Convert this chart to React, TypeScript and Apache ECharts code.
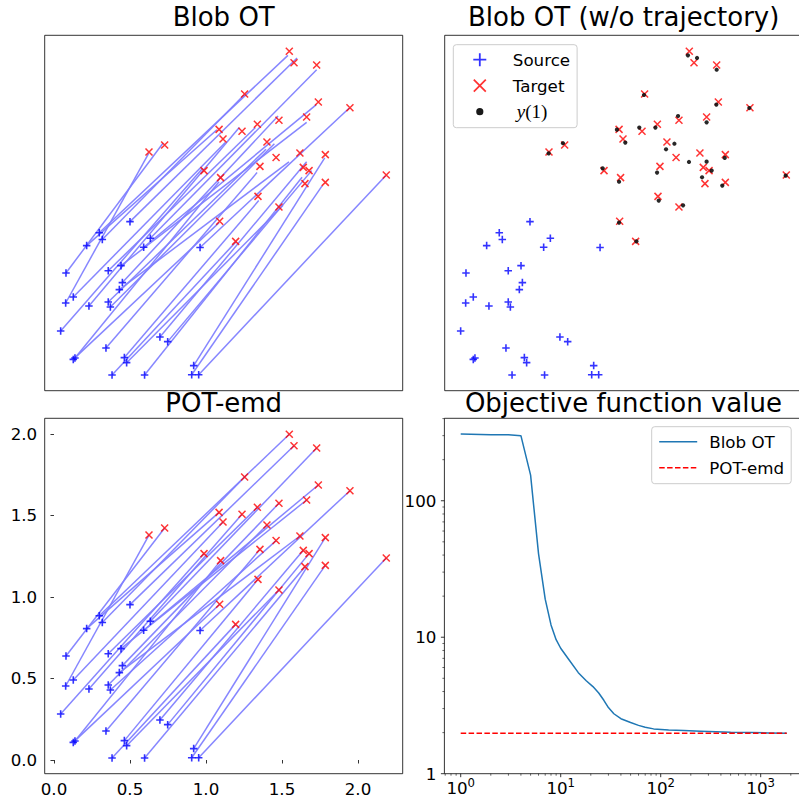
import React, { useEffect, useRef } from 'react';
import * as echarts from 'echarts';

// ---------------- data ----------------
const sourceX = [0.500, 0.298, 0.318, 0.215, 0.634, 0.590, 0.961, 0.079, 0.357, 0.441, 0.450, 0.430, 0.127, 0.077, 0.230, 0.357, 0.371, 0.044, 0.697, 0.748, 0.342, 0.127, 0.138, 0.463, 0.478, 0.919, 0.382, 0.596, 0.906, 0.952];
const sourceY = [0.953, 0.885, 0.843, 0.806, 0.851, 0.796, 0.794, 0.638, 0.652, 0.683, 0.579, 0.536, 0.491, 0.454, 0.436, 0.460, 0.429, 0.282, 0.245, 0.217, 0.178, 0.108, 0.117, 0.119, 0.088, 0.070, 0.012, 0.012, 0.014, 0.014];

const targetX = [1.548, 1.579, 1.728, 1.254, 1.739, 1.947, 1.480, 1.662, 1.086, 1.237, 1.338, 1.112, 1.401, 0.625, 0.728, 1.461, 1.618, 1.785, 0.987, 1.096, 1.355, 1.640, 1.678, 1.651, 1.785, 2.186, 1.342, 1.480, 1.090, 1.195];
const targetY = [1.998, 1.928, 1.914, 1.736, 1.687, 1.652, 1.575, 1.595, 1.519, 1.507, 1.550, 1.460, 1.442, 1.380, 1.423, 1.346, 1.374, 1.364, 1.266, 1.223, 1.292, 1.286, 1.266, 1.186, 1.194, 1.239, 1.108, 1.043, 0.955, 0.832];

// y(1): final blob positions, listed in the order of the target each ends near
const finalX = [1.539, 1.599, 1.728, 1.250, 1.726, 1.943, 1.474, 1.662, 1.072, 1.219, 1.325, 1.127, 1.395, 0.623, 0.717, 1.450, 1.546, 1.781, 0.978, 1.086, 1.336, 1.662, 1.695, 1.632, 1.765, 2.182, 1.347, 1.507, 1.086, 1.200];
const finalY = [1.973, 1.957, 1.885, 1.730, 1.671, 1.650, 1.601, 1.562, 1.517, 1.530, 1.530, 1.438, 1.397, 1.372, 1.434, 1.431, 1.319, 1.344, 1.280, 1.198, 1.254, 1.321, 1.266, 1.225, 1.174, 1.235, 1.082, 1.053, 0.947, 0.832];

// transport plan: source i is sent to target matchIdx[i]
const matchIdx = [1, 0, 3, 8, 2, 4, 5, 14, 10, 7, 6, 16, 11, 13, 9, 12, 15, 18, 21, 22, 20, 28, 19, 26, 27, 17, 29, 23, 24, 25];

const blobIterations = [1, 2, 3, 4, 5, 6, 7, 8, 9, 10, 12, 15, 18, 21, 24, 27, 30, 34, 40, 50, 60, 70, 85, 120, 170, 250, 360, 500, 800, 1200, 1820];
const blobObjective = [309, 305, 304, 300, 154, 41, 19, 12.3, 9.6, 8.3, 6.9, 5.5, 4.8, 4.35, 3.9, 3.45, 3.05, 2.75, 2.53, 2.37, 2.26, 2.19, 2.13, 2.09, 2.07, 2.05, 2.03, 2.01, 2.0, 1.99, 1.98];
const emdIterations = [1, 1820];
const emdObjective = [1.98, 1.98];

const scatterXTicks = [0, 0.5, 1, 1.5, 2];
const scatterYTicks = [0, 0.5, 1, 1.5, 2];
const logXMajor = [1, 10, 100, 1000];
const logYMajor = [1, 10, 100];

// ---------------- layout constants ----------------
const FONT = 'DejaVu Sans';
const XMIN = -0.061, XMAX = 2.294, YMIN = -0.084, YMAX = 2.096;
const LXMIN = 0.687, LXMAX = 2612, LYMIN = 1, LYMAX = 402;
const TICK_FS = 16.7;

const PLUS = 'path://M5,0L5,10M0,5L10,5';
const CROSS = 'path://M0,0L10,10M10,0L0,10';
// legend icons drawn in a 38x13 box so they sit centred in the handle area
const PLUS_ICON = 'path://M0,0L0,0M38,13L38,13M19,0L19,13M12.5,6.5L25.5,6.5';
const CROSS_ICON = 'path://M0,0L0,0M38,13L38,13M13,0.5L25,12.5M25,0.5L13,12.5';
const DOT_ICON = 'path://M0,0L0,0M38,13L38,13M22.6,6.5A3.6,3.6,0,1,1,15.4,6.5A3.6,3.6,0,1,1,22.6,6.5Z';
const LINE_ICON = 'path://M0,0L0,0M0,6.5L38,6.5M38,13L38,13';

export default function App() {
  const ref = useRef<HTMLDivElement>(null);
  useEffect(() => {
    if (!ref.current) return;
    const chart = echarts.init(ref.current, null, { renderer: 'svg' });

    const src = sourceX.map((x, i) => [x, sourceY[i]]);
    const tgt = targetX.map((x, i) => [x, targetY[i]]);
    const fin = finalX.map((x, i) => [x, finalY[i]]);
    const linesTL = src.map((p, i) => ({ coords: [p, fin[matchIdx[i]]] }));
    const linesBL = src.map((p, i) => ({ coords: [p, tgt[matchIdx[i]]] }));

    const logTicks: number[][] = [];
    logXMajor.forEach((v) => logTicks.push([v, LYMIN, 1]));
    [0.1, 1, 10, 100, 1000].forEach((d) => {
      for (let k = 2; k <= 9; k++) {
        const v = k * d;
        if (v > LXMIN && v < LXMAX) logTicks.push([v, LYMIN, 0]);
      }
    });
    logYMajor.forEach((v) => logTicks.push([LXMIN, v, 3]));
    [1, 10, 100].forEach((d) => {
      for (let k = 2; k <= 9; k++) {
        const v = k * d;
        if (v < LYMAX) logTicks.push([LXMIN, v, 2]);
      }
    });

    const frame = { show: true, borderColor: '#000', borderWidth: 0.8, backgroundColor: 'transparent', containLabel: false, outerBoundsMode: 'none' };
    const hiddenX = (gi: number) => ({ gridIndex: gi, type: 'value', min: XMIN, max: XMAX, show: false, splitLine: { show: false } });
    const hiddenY = (gi: number) => ({ gridIndex: gi, type: 'value', min: YMIN, max: YMAX, show: false, splitLine: { show: false } });
    const tickStyle = { show: true, length: 3.5, lineStyle: { color: '#000', width: 0.8 } };
    const labelBase = { show: true, fontSize: TICK_FS, color: '#000', fontFamily: FONT };
    const legendBase = {
      orient: 'vertical',
      backgroundColor: 'rgba(255,255,255,0.8)',
      borderColor: '#cccccc',
      borderWidth: 1,
      borderRadius: 3,
      itemWidth: 38,
      itemHeight: 13,
      itemGap: 6,
      symbolKeepAspect: true,
      selectedMode: false,
    };
    const plusStyle = { color: 'none', borderColor: '#0000ff', borderWidth: 1.6 };
    const crossStyle = { color: 'none', borderColor: '#ff0000', borderWidth: 1.5 };

    const option: any = {
      animation: false,
      backgroundColor: '#ffffff',
      grid: [
        { left: 44.7, top: 35.3, width: 358, height: 355.4, ...frame },
        { left: 444.7, top: 35.3, width: 358, height: 355.4, ...frame },
        { left: 44.7, top: 418.3, width: 358, height: 355.4, ...frame },
        { left: 444.4, top: 418.3, width: 358, height: 355.4, ...frame },
      ],
      xAxis: [
        hiddenX(0),
        hiddenX(1),
        {
          gridIndex: 2, type: 'value', min: XMIN, max: XMAX,
          axisLine: { show: false }, splitLine: { show: false },
          axisTick: { ...tickStyle, customValues: scatterXTicks },
          axisLabel: { ...labelBase, customValues: scatterXTicks, formatter: (v: number) => v.toFixed(1), margin: 5, lineHeight: 20 },
        },
        {
          gridIndex: 3, type: 'log', logBase: 10, min: LXMIN, max: LXMAX,
          axisLine: { show: false }, splitLine: { show: false }, axisTick: { show: false }, minorTick: { show: false },
          axisLabel: {
            ...labelBase, margin: 3.6, lineHeight: 22,
            formatter: (v: number) => {
              const l = Math.log10(v);
              const r = Math.round(l);
              return Math.abs(l - r) < 1e-6 ? `10{s|${r}}` : '';
            },
            rich: { s: { fontSize: 11.7, fontFamily: FONT, color: '#000', verticalAlign: 'top', lineHeight: 12 } },
          },
        },
      ],
      yAxis: [
        hiddenY(0),
        hiddenY(1),
        {
          gridIndex: 2, type: 'value', min: YMIN, max: YMAX,
          axisLine: { show: false }, splitLine: { show: false },
          axisTick: { ...tickStyle, customValues: scatterYTicks },
          axisLabel: { ...labelBase, customValues: scatterYTicks, formatter: (v: number) => v.toFixed(1), margin: 7.5 },
        },
        {
          gridIndex: 3, type: 'log', logBase: 10, min: LYMIN, max: LYMAX,
          axisLine: { show: false }, splitLine: { show: false }, axisTick: { show: false }, minorTick: { show: false },
          axisLabel: {
            ...labelBase, margin: 8,
            formatter: (v: number) => {
              const l = Math.log10(v);
              const r = Math.round(l);
              return Math.abs(l - r) < 1e-6 ? String(Math.round(v)) : '';
            },
          },
        },
      ],
      legend: [
        {
          ...legendBase,
          left: 453.3, top: 44.7,
          padding: [5, 7, 6, 5],
          data: [
            { name: 'Source', icon: PLUS_ICON, itemStyle: { color: 'none', borderColor: '#0000ff', borderWidth: 1.8 } },
            { name: 'Target', icon: CROSS_ICON, itemStyle: { color: 'none', borderColor: '#ff0000', borderWidth: 1.8 } },
            { name: 'y(1)', icon: DOT_ICON, itemStyle: { color: '#000000', borderWidth: 0 } },
          ],
          formatter: (name: string) => (name === 'y(1)' ? '{i|y}{n|(1)}' : `{t|${name}}`),
          textStyle: {
            fontSize: TICK_FS, fontFamily: FONT, color: '#000', lineHeight: 20,
            rich: {
              t: { fontSize: TICK_FS, fontFamily: FONT, color: '#000', lineHeight: 20, padding: [0, 0, 0, 9] },
              i: { fontFamily: 'Liberation Serif', fontStyle: 'italic', fontSize: 19, lineHeight: 20, color: '#000', padding: [0, 0, 0, 13] },
              n: { fontFamily: 'Liberation Serif', fontSize: 19, lineHeight: 20, color: '#000' },
            },
          },
        },
        {
          ...legendBase,
          left: 651.7, top: 426.7,
          padding: [5, 7, 6, 5],
          data: [
            { name: 'Blob OT', icon: LINE_ICON, itemStyle: { color: 'none', borderColor: '#1f77b4', borderWidth: 1.5 } },
            { name: 'POT-emd', icon: LINE_ICON, itemStyle: { color: 'none', borderColor: '#ff0000', borderWidth: 1.5, borderType: [5.5, 2.4] } },
          ],
          formatter: (name: string) => `{t|${name}}`,
          textStyle: {
            fontSize: TICK_FS, fontFamily: FONT, color: '#000', lineHeight: 20,
            rich: { t: { fontSize: TICK_FS, fontFamily: FONT, color: '#000', lineHeight: 20, padding: [0, 0, 0, 7] } },
          },
        },
      ],
      graphic: [
        { type: 'text', x: 223.7, y: 17.2, style: { text: 'Blob OT', fontSize: 26, fontFamily: FONT, fill: '#000', textAlign: 'center', textVerticalAlign: 'middle' } },
        { type: 'text', x: 623.7, y: 17.2, style: { text: 'Blob OT (w/o trajectory)', fontSize: 26, fontFamily: FONT, fill: '#000', textAlign: 'center', textVerticalAlign: 'middle' } },
        { type: 'text', x: 223.7, y: 403, style: { text: 'POT-emd', fontSize: 26, fontFamily: FONT, fill: '#000', textAlign: 'center', textVerticalAlign: 'middle' } },
        { type: 'text', x: 623.4, y: 403, style: { text: 'Objective function value', fontSize: 26, fontFamily: FONT, fill: '#000', textAlign: 'center', textVerticalAlign: 'middle' } },
      ],
      series: [
        // Top-left: trajectories of the blobs
        { type: 'lines', coordinateSystem: 'cartesian2d', xAxisIndex: 0, yAxisIndex: 0, data: linesTL, silent: true, lineStyle: { color: '#7f7fff', width: 1.5, opacity: 0.95 } },
        { type: 'scatter', name: 'src-tl', xAxisIndex: 0, yAxisIndex: 0, data: src, symbol: PLUS, symbolSize: 7.5, itemStyle: plusStyle, silent: true },
        { type: 'scatter', name: 'tgt-tl', xAxisIndex: 0, yAxisIndex: 0, data: tgt, symbol: CROSS, symbolSize: 7, itemStyle: crossStyle, silent: true },
        // Top-right
        { type: 'scatter', name: 'Source', xAxisIndex: 1, yAxisIndex: 1, data: src, symbol: PLUS, symbolSize: 7.5, itemStyle: plusStyle, silent: true },
        { type: 'scatter', name: 'Target', xAxisIndex: 1, yAxisIndex: 1, data: tgt, symbol: CROSS, symbolSize: 7, itemStyle: crossStyle, silent: true },
        { type: 'scatter', name: 'y(1)', xAxisIndex: 1, yAxisIndex: 1, data: fin, symbol: 'circle', symbolSize: 4.2, itemStyle: { color: '#111111', opacity: 0.9 }, silent: true },
        // Bottom-left: POT-emd plan
        { type: 'lines', coordinateSystem: 'cartesian2d', xAxisIndex: 2, yAxisIndex: 2, data: linesBL, silent: true, lineStyle: { color: '#7f7fff', width: 1.5, opacity: 0.95 } },
        { type: 'scatter', name: 'src-bl', xAxisIndex: 2, yAxisIndex: 2, data: src, symbol: PLUS, symbolSize: 7.5, itemStyle: plusStyle, silent: true },
        { type: 'scatter', name: 'tgt-bl', xAxisIndex: 2, yAxisIndex: 2, data: tgt, symbol: CROSS, symbolSize: 7, itemStyle: crossStyle, silent: true },
        // Bottom-right: objective value
        {
          type: 'line', name: 'Blob OT', xAxisIndex: 3, yAxisIndex: 3,
          data: blobIterations.map((x, i) => [x, blobObjective[i]]),
          symbol: 'none', showSymbol: false, silent: true,
          lineStyle: { color: '#1f77b4', width: 1.5 }, itemStyle: { color: '#1f77b4' },
        },
        {
          type: 'line', name: 'POT-emd', xAxisIndex: 3, yAxisIndex: 3,
          data: emdIterations.map((x, i) => [x, emdObjective[i]]),
          symbol: 'none', showSymbol: false, silent: true,
          lineStyle: { color: '#ff0000', width: 1.5, type: [5.5, 2.4] }, itemStyle: { color: '#ff0000' },
        },
        {
          type: 'custom', name: 'log-ticks', xAxisIndex: 3, yAxisIndex: 3, data: logTicks, silent: true,
          encode: { x: 0, y: 1 },
          renderItem: (_params: any, api: any) => {
            const kind = api.value(2);
            const p = api.coord([api.value(0), api.value(1)]);
            const major = kind === 1 || kind === 3;
            const len = major ? 3.5 : 2;
            const isX = kind < 2;
            return {
              type: 'line',
              shape: isX ? { x1: p[0], y1: p[1], x2: p[0], y2: p[1] + len } : { x1: p[0] - len, y1: p[1], x2: p[0], y2: p[1] },
              style: { stroke: '#000', lineWidth: major ? 0.8 : 0.6 },
            };
          },
        },
      ],
    };
    chart.setOption(option);
    return () => chart.dispose();
  }, []);
  return <div ref={ref} style={{ position: 'fixed', left: 0, top: 0, width: 799, height: 801 }} />;
}
